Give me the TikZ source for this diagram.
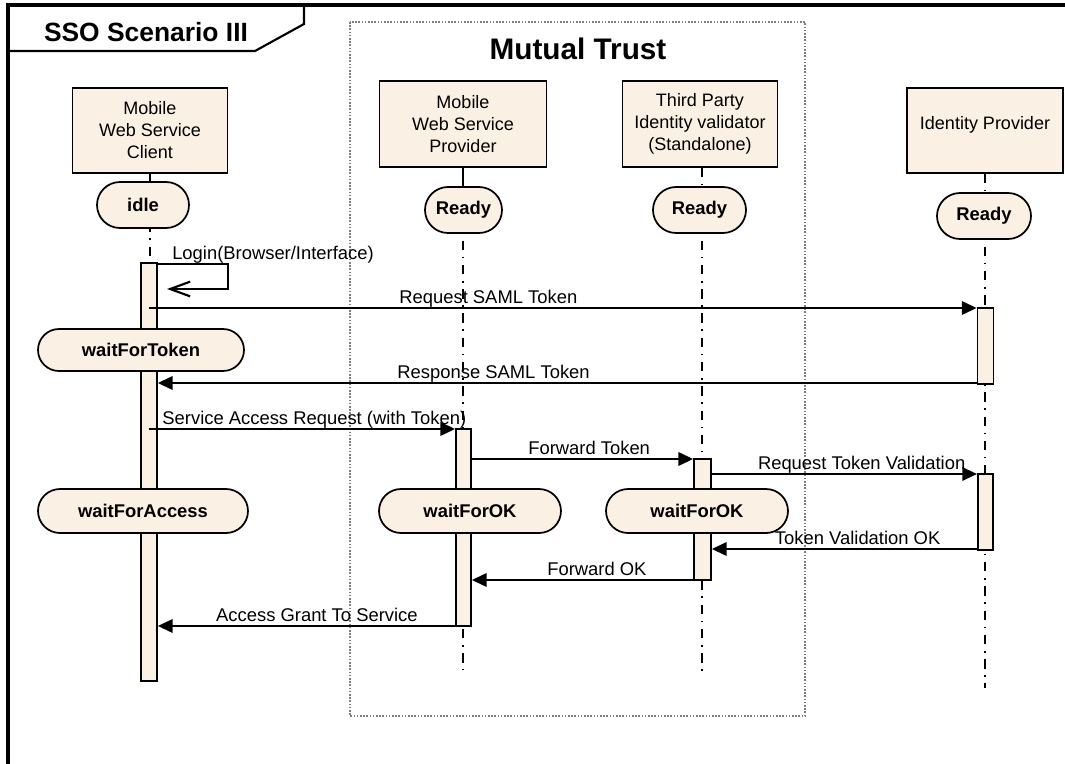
\documentclass[tikz,border=0pt]{standalone}
\usepackage{fontspec}
\setmainfont{Liberation Sans}
\usetikzlibrary{arrows.meta,shapes.misc}
\definecolor{beige}{RGB}{250,240,227}
\begin{document}
\begin{tikzpicture}[x=0.75pt,y=-0.75pt,
  actor/.style={draw,fill=beige,line width=1.3pt,align=center,
    font=\fontsize{13.5}{16.5}\selectfont,inner sep=0pt},
  state/.style={draw,fill=beige,rounded rectangle,line width=1.3pt,
    font=\bfseries\fontsize{13.8}{16}\selectfont,inner sep=0pt},
  actbar/.style={draw,fill=beige,line width=1.3pt,inner sep=0pt},
  lifeline/.style={line width=1.6pt,dash pattern=on 7pt off 5pt on 1.2pt off 5pt},
  msg/.style={line width=1.6pt,-{Triangle[length=11pt,width=10pt]}},
  msglabel/.style={font=\fontsize{13.8}{16}\selectfont,anchor=base,inner sep=0pt,yshift=3.5pt},
]
\useasboundingbox (0,0) rectangle (1065,764);

% frame and title tab
\draw[line width=2.6pt] (8,780) -- (8,5) -- (1080,5);
\draw[line width=1.6pt] (8,51) -- (255,51) -- (304,24) -- (304,5);
\node[font=\bfseries\fontsize{19.8}{22}\selectfont] (title) at (146,32) {SSO Scenario III};

% trust boundary
\draw[gray,line width=0.8pt,dash pattern=on 1.2pt off 1.2pt] (350,22) rectangle (805,716);
\node[font=\bfseries\fontsize{22.3}{26}\selectfont] (trust) at (578,49) {Mutual Trust};

% participants
\node[actor,minimum width=116.25pt,minimum height=63.75pt] (client) at (150,130.5) {Mobile\\Web Service\\Client};
\node[actor,minimum width=125.25pt,minimum height=64.5pt] (provider) at (463,124) {Mobile\\Web Service\\Provider};
\node[actor,minimum width=116.25pt,minimum height=64.5pt] (third) at (700,124) {Third Party\\Identity validator\\(Standalone)};
\node[actor,minimum width=117pt,minimum height=63.75pt] (idp) at (985,130.5) {};
\node[font=\fontsize{13.5}{16.5}\selectfont,inner sep=0pt] (idpText) at (985,125) {Identity Provider};

% lifelines
\draw[lifeline] (client.south) -- (client.south |- 0,680);
\draw[lifeline] (provider.south) -- (provider.south |- 0,670);
\draw[lifeline] (third.south -| 702,0) -- (702,675);
\draw[lifeline] (idp.south) -- (idp.south |- 0,688);
\draw[line width=1.6pt] (provider.south) -- (provider.south |- 0,190);
\draw[line width=1.6pt] (client.south) -- (client.south |- 0,185);

% activation bars
\node[actbar,minimum width=12pt,minimum height=313.5pt] (cbar) at (149,472) {};
\node[actbar,minimum width=11.25pt,minimum height=147.75pt] (pbar) at (463.5,527.5) {};
\node[actbar,minimum width=12.75pt,minimum height=90.75pt] (tbar) at (702.5,519.5) {};
\node[actbar,minimum width=12pt,minimum height=57pt] (ibarA) at (985.5,346) {};
\node[actbar,minimum width=11.5pt,minimum height=57pt] (ibarB) at (985.5,512) {};

% states
\node[state,minimum width=69pt,minimum height=34.5pt] (idle) at (143,205) {idle};
\node[state,minimum width=57.75pt,minimum height=34.5pt] (readyP) at (463.5,210) {Ready};
\node[state,minimum width=69.75pt,minimum height=34.5pt] (readyT) at (699.5,210) {Ready};
\node[state,minimum width=70.5pt,minimum height=34.5pt] (readyI) at (984,216) {Ready};
\node[state,minimum width=154.5pt,minimum height=31.5pt] (waitTok) at (141,350) {waitForToken};
\node[state,minimum width=157.5pt,minimum height=33pt] (waitAcc) at (143,511) {waitForAccess};
\node[state,minimum width=136.5pt,minimum height=33pt] (waitOKP) at (470,511) {waitForOK};
\node[state,minimum width=136.5pt,minimum height=33pt] (waitOKT) at (697,511) {waitForOK};

% self message
\coordinate (loginTip) at (167,289);
\draw[line width=1.6pt,-{Straight Barb[length=15pt,width=11pt]}]
  (cbar.east |- 0,264) -- (228,264) -- (228,289) -- (loginTip);
\node[font=\fontsize{13.8}{16}\selectfont,anchor=base west,inner sep=0pt] (login) at (172,259) {Login(Browser/Interface)};

% messages
\draw[msg] (cbar.center |- 0,308) -- (ibarA.west |- 0,308)
  node[msglabel,pos=0.41] {Request SAML Token};
\draw[msg] (ibarA.west |- 0,383) -- (cbar.east |- 0,383)
  node[msglabel,pos=0.59] {Response SAML Token};
\draw[msg] (cbar.center |- 0,429) -- (pbar.west |- 0,429)
  node[msglabel,pos=0.54] {Service Access Request (with Token)};
\draw[msg] (pbar.east |- 0,459) -- (tbar.west |- 0,459)
  node[msglabel,pos=0.53] {Forward Token};
\draw[msg] (tbar.east |- 0,474) -- (ibarB.west |- 0,474)
  node[msglabel,pos=0.565] {Request Token Validation};
\draw[msg] (ibarB.west |- 0,549) -- (tbar.east |- 0,549)
  node[msglabel,pos=0.45] {Token Validation OK};
\draw[msg] (tbar.west |- 0,580) -- (pbar.east |- 0,580)
  node[msglabel,pos=0.435] {Forward OK};
\draw[msg] (pbar.west |- 0,626) -- (cbar.east |- 0,626)
  node[msglabel,pos=0.465] {Access Grant To Service};
\end{tikzpicture}
\end{document}
